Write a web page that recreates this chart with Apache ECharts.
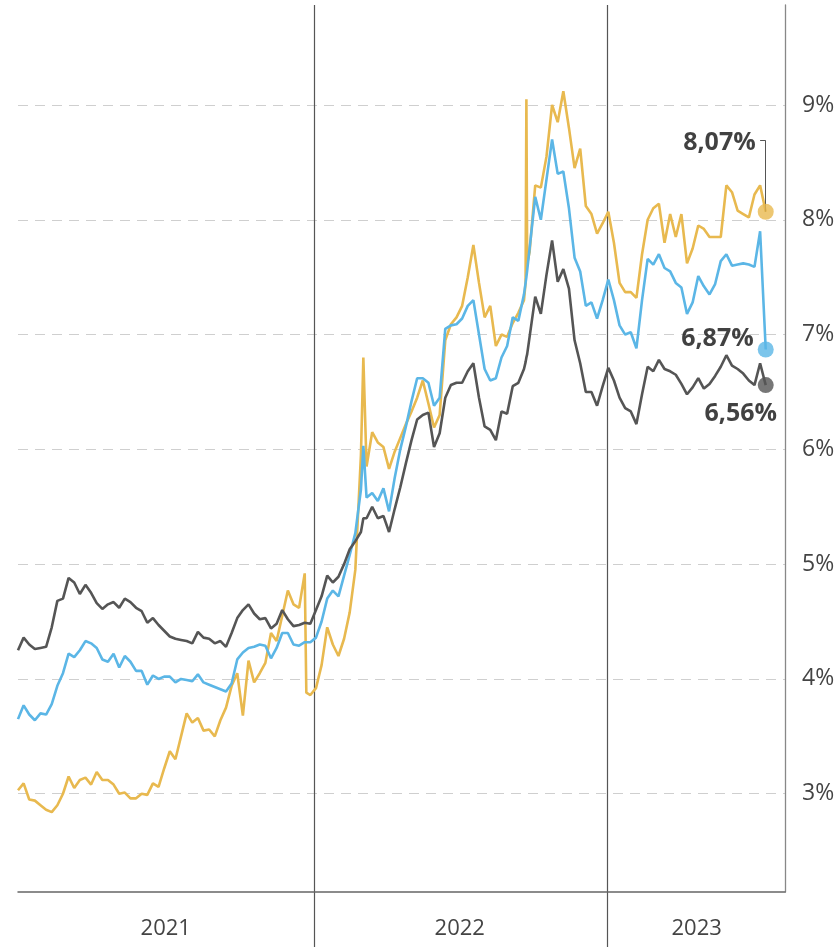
<!DOCTYPE html>
<html>
<head>
<meta charset="utf-8">
<script src="https://cdn.jsdelivr.net/npm/echarts@6/dist/echarts.min.js"></script>
<style>
  html, body { margin: 0; padding: 0; background: #fff; }
  #chart { width: 840px; height: 947px; }
</style>
</head>
<body>
<div id="chart"></div>
<script>
  // weekly dates (a few extra days where the series jump)
  const weeks = [
    '2020-12-28','2021-01-04','2021-01-11','2021-01-18','2021-01-25','2021-02-01','2021-02-08','2021-02-15','2021-02-22','2021-03-01',
    '2021-03-08','2021-03-15','2021-03-22','2021-03-29','2021-04-05','2021-04-12','2021-04-19','2021-04-26','2021-05-03','2021-05-10',
    '2021-05-17','2021-05-24','2021-05-31','2021-06-07','2021-06-14','2021-06-21','2021-06-28','2021-07-05','2021-07-12','2021-07-19',
    '2021-07-26','2021-08-02','2021-08-09','2021-08-16','2021-08-23','2021-08-30','2021-09-06','2021-09-13','2021-09-20','2021-09-27',
    '2021-10-04','2021-10-11','2021-10-18','2021-10-25','2021-11-01','2021-11-08','2021-11-15','2021-11-22','2021-11-29','2021-12-06',
    '2021-12-13','2021-12-20','2021-12-22','2021-12-27','2022-01-03','2022-01-10','2022-01-17','2022-01-24','2022-01-31','2022-02-07',
    '2022-02-14','2022-02-21','2022-02-28','2022-03-03','2022-03-07','2022-03-14','2022-03-21','2022-03-28','2022-04-04','2022-04-11',
    '2022-04-18','2022-04-25','2022-05-02','2022-05-09','2022-05-16','2022-05-23','2022-05-30','2022-06-06','2022-06-13','2022-06-20',
    '2022-06-27','2022-07-04','2022-07-11','2022-07-18','2022-07-25','2022-08-01','2022-08-08','2022-08-15','2022-08-22','2022-08-29',
    '2022-09-05','2022-09-12','2022-09-19','2022-09-21','2022-09-22','2022-09-23','2022-09-26','2022-10-03','2022-10-10','2022-10-17',
    '2022-10-24','2022-10-31','2022-11-07','2022-11-14','2022-11-21','2022-11-28','2022-12-05','2022-12-12','2022-12-19','2022-12-26',
    '2023-01-02','2023-01-09','2023-01-16','2023-01-23','2023-01-30','2023-02-06','2023-02-13','2023-02-20','2023-02-27','2023-03-06',
    '2023-03-13','2023-03-20','2023-03-27','2023-04-03','2023-04-10','2023-04-17','2023-04-24','2023-05-01','2023-05-08','2023-05-15',
    '2023-05-22','2023-05-29','2023-06-05','2023-06-12','2023-06-19','2023-06-26','2023-07-03','2023-07-10','2023-07-17'
  ];

  // obere Linie (gelb)
  const rateYellow = [
    3.03, 3.09, 2.95, 2.94, 2.90, 2.86, 2.84, 2.90, 3.00, 3.15,
    3.05, 3.12, 3.14, 3.08, 3.19, 3.12, 3.12, 3.08, 3.00, 3.01,
    2.96, 2.96, 3.00, 2.99, 3.09, 3.06, 3.22, 3.37, 3.30, 3.50,
    3.70, 3.62, 3.66, 3.55, 3.56, 3.50, 3.64, 3.75, 3.94, 4.05,
    3.68, 4.16, 3.97, 4.05, 4.14, 4.40, 4.33, 4.55, 4.77, 4.65,
    4.62, 4.92, 3.88, 3.86, 3.92, 4.12, 4.45, 4.30, 4.20, 4.35,
    4.58, 4.95, 5.95, 6.80, 5.85, 6.15, 6.06, 6.02, 5.83, 5.98,
    6.10, 6.22, 6.33, 6.45, 6.60, 6.40, 6.19, 6.30, 6.95, 7.09,
    7.15, 7.25, 7.50, 7.78, 7.45, 7.15, 7.25, 6.90, 7.00, 6.98,
    7.10, 7.19, 7.30, 7.45, 9.05, 7.62, 7.72, 8.30, 8.28, 8.55,
    9.00, 8.85, 9.12, 8.80, 8.45, 8.62, 8.12, 8.05, 7.88, 7.97,
    8.07, 7.80, 7.45, 7.37, 7.37, 7.32, 7.70, 8.00, 8.10, 8.14,
    7.80, 8.05, 7.85, 8.05, 7.62, 7.75, 7.95, 7.92, 7.85, 7.85,
    7.85, 8.30, 8.24, 8.08, 8.05, 8.02, 8.22, 8.30, 8.07
  ];

  // mittlere Linie (blau)
  const rateBlue = [
    3.65, 3.77, 3.69, 3.64, 3.70, 3.69, 3.78, 3.94, 4.05, 4.22,
    4.19, 4.25, 4.33, 4.31, 4.27, 4.17, 4.15, 4.22, 4.10, 4.20,
    4.15, 4.07, 4.07, 3.95, 4.03, 4.00, 4.02, 4.02, 3.97, 4.00,
    3.99, 3.98, 4.04, 3.97, 3.95, 3.93, 3.91, 3.89, 3.96, 4.17,
    4.23, 4.27, 4.28, 4.30, 4.29, 4.18, 4.27, 4.40, 4.40, 4.30,
    4.29, 4.32, 4.32, 4.32, 4.36, 4.50, 4.70, 4.77, 4.72, 4.90,
    5.08, 5.27, 5.65, 6.03, 5.58, 5.62, 5.55, 5.66, 5.46, 5.75,
    6.00, 6.20, 6.42, 6.62, 6.62, 6.58, 6.38, 6.45, 7.05, 7.08,
    7.09, 7.14, 7.25, 7.30, 7.00, 6.70, 6.60, 6.62, 6.80, 6.90,
    7.15, 7.12, 7.35, 7.45, 7.50, 7.56, 7.75, 8.20, 8.00, 8.35,
    8.70, 8.40, 8.42, 8.10, 7.67, 7.55, 7.25, 7.28, 7.14, 7.30,
    7.48, 7.30, 7.08, 7.00, 7.02, 6.88, 7.30, 7.66, 7.61, 7.70,
    7.58, 7.55, 7.45, 7.41, 7.18, 7.28, 7.51, 7.42, 7.35, 7.44,
    7.64, 7.70, 7.60, 7.61, 7.62, 7.61, 7.59, 7.90, 6.87
  ];

  // untere Linie (grau)
  const rateGray = [
    4.25, 4.36, 4.30, 4.26, 4.27, 4.28, 4.45, 4.68, 4.70, 4.88,
    4.84, 4.74, 4.82, 4.75, 4.66, 4.61, 4.65, 4.67, 4.62, 4.70,
    4.67, 4.62, 4.59, 4.49, 4.53, 4.47, 4.42, 4.37, 4.35, 4.34,
    4.33, 4.31, 4.41, 4.36, 4.35, 4.31, 4.33, 4.28, 4.40, 4.53,
    4.60, 4.65, 4.57, 4.52, 4.53, 4.44, 4.48, 4.60, 4.52, 4.46,
    4.47, 4.49, 4.49, 4.48, 4.60, 4.72, 4.90, 4.84, 4.89, 5.00,
    5.13, 5.20, 5.28, 5.40, 5.40, 5.50, 5.40, 5.42, 5.28, 5.48,
    5.67, 5.88, 6.08, 6.26, 6.30, 6.32, 6.02, 6.14, 6.45, 6.56,
    6.58, 6.58, 6.68, 6.75, 6.45, 6.20, 6.17, 6.08, 6.33, 6.31,
    6.55, 6.58, 6.70, 6.76, 6.80, 6.83, 6.98, 7.33, 7.18, 7.52,
    7.82, 7.46, 7.57, 7.40, 6.95, 6.75, 6.50, 6.50, 6.38, 6.55,
    6.71, 6.60, 6.45, 6.36, 6.33, 6.22, 6.48, 6.72, 6.68, 6.78,
    6.70, 6.68, 6.65, 6.57, 6.48, 6.54, 6.62, 6.53, 6.57, 6.64,
    6.72, 6.82, 6.73, 6.70, 6.66, 6.60, 6.56, 6.75, 6.56
  ];

  // achsen
  const axisStart = '2020-12-28';
  const axisEnd = '2023-08-10';
  const yearStarts = ['2022-01-01', '2023-01-01'];
  const yearMids = ['2021-06-30', '2022-07-01', '2023-04-22'];
  const yTicks = [3, 4, 5, 6, 7, 8, 9];

  const colors = { yellow: '#E8B94F', blue: '#5BB6E6', gray: '#555555' };
  const font = '"Open Sans", "Noto Sans", sans-serif';

  // Datum -> Zeitstempel (UTC), x-Achse als Wertachse
  const ts = d => Date.parse(d);
  const pct = v => v.toFixed(2).replace('.', ',') + '%';
  const last = arr => arr[arr.length - 1];
  const lastWeek = ts(weeks[weeks.length - 1]);

  function lineSeries(name, values, color) {
    return {
      type: 'line',
      name: name,
      xAxisIndex: 0,
      yAxisIndex: 0,
      data: weeks.map((d, i) => [ts(d), values[i]]),
      symbol: 'none',
      lineStyle: { color: color, width: 2.6 },
      itemStyle: { color: color },
      z: 3
    };
  }

  function endPoint(name, values, color, label) {
    return {
      type: 'scatter',
      name: name,
      xAxisIndex: 0,
      yAxisIndex: 0,
      data: [[lastWeek, last(values)]],
      symbolSize: 16,
      itemStyle: { color: color },
      label: Object.assign({
        show: true,
        formatter: p => pct(p.value[1]),
        fontFamily: font,
        fontWeight: 'bold',
        fontSize: 25,
        color: '#111'
      }, label),
      z: 5
    };
  }

  const yellowEnd = endPoint('gelb', rateYellow, colors.yellow, { position: 'left', distance: 2, offset: [0, -69] });
  // Hinweislinie zum gelben Wert
  const calloutTop = last(rateYellow) + 0.62;
  yellowEnd.markLine = {
    silent: true,
    symbol: 'none',
    animation: false,
    label: { show: false },
    lineStyle: { color: '#555', width: 1, type: 'solid' },
    data: [
      [{ coord: [ts(weeks[weeks.length - 2]), calloutTop] }, { coord: [lastWeek, calloutTop] }],
      [{ coord: [lastWeek, calloutTop] }, { coord: [lastWeek, last(rateYellow)] }]
    ]
  };

  function xAxisBase(gridIndex) {
    return {
      type: 'value',
      gridIndex: gridIndex,
      min: ts(axisStart),
      max: ts(axisEnd),
      axisTick: { show: false, customValues: yearStarts.map(ts) },
      splitLine: { show: true, lineStyle: { color: '#555', width: 1.2 } }
    };
  }

  const xMain = xAxisBase(0);
  xMain.axisLine = { show: true, lineStyle: { color: '#666', width: 1.5 } };
  xMain.axisLabel = {
    customValues: yearMids.map(ts),
    formatter: v => String(new Date(v).getUTCFullYear()),
    margin: 26,
    color: '#444',
    fontSize: 22,
    fontFamily: font
  };
  const xLow = xAxisBase(1);
  xLow.axisLine = { show: false };
  xLow.axisLabel = { show: false };

  const chart = echarts.init(document.getElementById('chart'), null, { renderer: 'canvas' });
  const option = {
    animation: false,
    backgroundColor: '#fff',
    grid: [
      { left: 18, right: 55, top: 5, bottom: 55 },
      { left: 18, right: 55, top: 892, bottom: 0 }
    ],
    xAxis: [xMain, xLow],
    yAxis: [
      {
        type: 'value',
        gridIndex: 0,
        position: 'right',
        min: 2.144,
        max: 9.871,
        axisLine: { show: true, lineStyle: { color: '#888', width: 1.3 } },
        axisTick: { show: false, customValues: yTicks },
        axisLabel: {
          customValues: yTicks,
          formatter: '{value}%',
          margin: 17,
          color: '#444',
          fontSize: 23,
          fontFamily: font
        },
        splitLine: { show: true, lineStyle: { color: '#cfcfcf', width: 1.2, type: [10, 7] } }
      },
      { type: 'value', gridIndex: 1, show: false, min: 0, max: 1 }
    ],
    series: [
      lineSeries('gelb', rateYellow, colors.yellow),
      lineSeries('blau', rateBlue, colors.blue),
      lineSeries('grau', rateGray, colors.gray),
      yellowEnd,
      endPoint('blau', rateBlue, colors.blue, { position: 'left', distance: 4, offset: [0, -11] }),
      endPoint('grau', rateGray, colors.gray, { position: 'bottom', distance: 4, offset: [-25, 4] })
    ]
  };
  chart.setOption(option);
</script>
</body>
</html>
